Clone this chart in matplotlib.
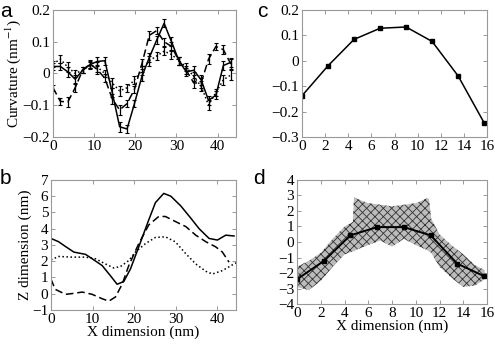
import matplotlib
matplotlib.use("Agg")
import matplotlib.pyplot as plt

plt.rcParams['font.family'] = ['Liberation Serif', 'DejaVu Serif']
plt.rcParams['mathtext.fontset'] = 'stix'
plt.rcParams['hatch.linewidth'] = 0.6

# panel a: curvature along the membrane
a_x = [0, 1.8, 3.6, 5.4, 7.2, 9.0, 10.8, 12.6, 14.4, 16.2, 18.0, 19.8, 21.6,
       23.4, 25.2, 27.0, 28.8, 30.6, 32.4, 34.2, 36.0, 37.8, 39.6, 41.4, 43.2]
a_solid = [0.022, 0.022, 0.005, -0.018, 0.01, 0.028, 0.038, 0.04, -0.06, -0.168,
           -0.175, -0.095, -0.01, 0.05, 0.105, 0.158, 0.1, 0.04, 0.005, 0.01,
           -0.02, -0.085, -0.068, 0.025, 0.035]
a_dashed = [-0.045, -0.088, -0.09, -0.045, 0.01, 0.03, 0.012, -0.015, -0.08, -0.115,
            -0.095, -0.05, 0.03, 0.12, 0.135, 0.1, 0.085, 0.04, 0.01, -0.03,
            -0.03, 0.045, 0.085, 0.075, 0.03]
a_dotted = [0.03, 0.045, 0.02, 0.0, 0.01, 0.025, 0.02, 0.0, -0.03, -0.055,
            -0.045, -0.02, 0.01, 0.04, 0.055, 0.07, 0.06, 0.04, 0.02, -0.01,
            -0.04, -0.1, -0.06, -0.02, -0.005]
a_err = [0.01, 0.012, 0.015, 0.012, 0.01, 0.012, 0.015, 0.012, 0.015, 0.015,
         0.012, 0.012, 0.015, 0.015, 0.012, 0.012, 0.015, 0.012, 0.012, 0.015,
         0.015, 0.015, 0.012, 0.015, 0.015]

# panel b: membrane profiles
b_solid_x = [0, 1.8, 3.5, 5.5, 8.3, 9.9, 12.3, 14.3, 15.9, 17.5, 19.1, 21.1, 23.5,
             25.1, 27.1, 28.8, 31.2, 33.6, 35.6, 38.0, 40.0, 42.0, 44.0]
b_solid_y = [3.4, 3.2, 2.9, 2.56, 2.42, 2.15, 1.73, 1.1, 0.58, 0.75, 1.52, 2.88, 4.54,
             5.6, 6.17, 6.0, 5.4, 4.65, 4.0, 3.4, 3.3, 3.6, 3.55]
b_dashed_x = [0, 1.0, 3.5, 5.5, 7.5, 9.9, 12.3, 13.9, 15.5, 17.1, 18.7, 21.1, 23.5,
              25.9, 27.5, 29.9, 32.4, 34.8, 37.2, 39.6, 41.2, 42.8]
b_dashed_y = [0.9, 0.27, -0.04, 0.02, 0.1, -0.04, -0.31, -0.46, -0.2, 0.58, 1.73, 3.08,
              4.23, 4.75, 4.75, 4.44, 4.13, 3.6, 3.2, 2.88, 2.56, 1.94]
b_dotted_x = [0, 1.8, 5.0, 8.3, 10.7, 13.1, 15.1, 16.7, 18.7, 20.3, 22.7, 25.1, 27.5,
              29.9, 32.4, 34.8, 37.2, 38.8, 41.2, 44.0, 44.5]
b_dotted_y = [2.08, 2.29, 2.25, 2.25, 2.15, 1.83, 1.58, 1.67, 2.04, 2.56, 3.08, 3.46,
              3.5, 3.19, 2.46, 1.83, 1.38, 1.21, 1.42, 1.83, 1.9]

# panel c: curvature of the BAR domain
c_x = [0, 2.25, 4.5, 6.75, 9.0, 11.25, 13.5, 15.75]
c_y = [-0.138, -0.02, 0.084, 0.128, 0.133, 0.076, -0.06, -0.245]

# panel d: fitted profile and the extent of the atom cloud
d_y = [-2.4, -1.23, 0.43, 0.96, 0.96, 0.43, -1.4, -2.2]
cloud_x = [0, 1, 2, 3, 4, 4.7, 4.8, 5, 6, 7, 8, 9, 10, 10.9, 11.1, 11.3, 12, 13, 14, 15, 15.8]
cloud_hi = [-1.6, -1.2, -0.7, 0.2, 1.0, 1.3, 2.9, 2.8, 2.5, 2.4, 2.3, 2.4, 2.5, 2.8, 2.8,
            1.5, 0.5, -0.2, -0.8, -1.5, -1.8]
cloud_lo = [-2.9, -3.1, -2.5, -1.6, -0.8, -0.6, -0.6, -0.5, -0.2, 0.1, -0.3, 0.2, -0.2,
            -0.5, -0.6, -0.7, -1.6, -2.3, -2.9, -2.8, -2.4]

fig = plt.figure(figsize=(4.95, 3.44), dpi=100)
ax_a = fig.add_axes([0.107, 0.602, 0.370, 0.369])
ax_c = fig.add_axes([0.610, 0.602, 0.374, 0.369])
ax_b = fig.add_axes([0.103, 0.099, 0.374, 0.378])
ax_d = fig.add_axes([0.600, 0.116, 0.384, 0.361])

for ax in (ax_a, ax_b, ax_c, ax_d):
    ax.tick_params(direction='in', top=True, right=True, labelsize=11, length=3,
                   width=0.6, color='#888888', pad=2)
    for s in ax.spines.values():
        s.set_color('#999999')
        s.set_linewidth(0.8)

# a
for ys, ls in ((a_solid, '-'), (a_dashed, (0, (5, 2.5))), (a_dotted, ':')):
    ax_a.errorbar(a_x, ys, yerr=a_err, color='black', ls=ls, lw=1.1,
                  elinewidth=0.9, capsize=1.2, capthick=0.8)
ax_a.set_xlim(0, 44.5)
ax_a.set_ylim(-0.2, 0.2)
ax_a.set_xticks([0, 10, 20, 30, 40])
ax_a.set_yticks([-0.2, -0.1, 0, 0.1, 0.2])
ax_a.set_yticklabels(['\u22120.2', '\u22120.1', '0', '0.1', '0.2'])
ax_a.set_ylabel('Curvature (nm$^{-1}$)', fontsize=11, labelpad=0)

# b
ax_b.plot(b_solid_x, b_solid_y, color='black', lw=1.1)
ax_b.plot(b_dashed_x, b_dashed_y, color='black', lw=1.1, ls=(0, (5, 2.5)))
ax_b.plot(b_dotted_x, b_dotted_y, color='black', lw=1.1, ls=':')
ax_b.set_xlim(0, 44.5)
ax_b.set_ylim(-1, 7)
ax_b.set_xticks([0, 10, 20, 30, 40])
ax_b.set_yticks(range(-1, 8))
ax_b.set_yticklabels(['\u22121'] + [str(v) for v in range(0, 8)])
ax_b.set_ylabel('Z dimension (nm)', fontsize=11, labelpad=0)
ax_b.set_xlabel('X dimension (nm)', fontsize=11, labelpad=0)

# c
ax_c.plot(c_x, c_y, color='black', lw=1.1, marker='s', ms=3)
ax_c.set_xlim(0, 16)
ax_c.set_ylim(-0.3, 0.2)
ax_c.set_xticks(range(0, 17, 2))
ax_c.set_yticks([-0.3, -0.2, -0.1, 0, 0.1, 0.2])
ax_c.set_yticklabels(['\u22120.3', '\u22120.2', '\u22120.1', '0', '0.1', '0.2'])

# d
ax_d.fill_between(cloud_x, cloud_lo, cloud_hi, facecolor='#bcbcbc', edgecolor='#333333',
                  hatch='xxxx', lw=0.0)
ax_d.plot(c_x, d_y, color='black', lw=1.4, marker='s', ms=3)
ax_d.set_xlim(0, 16)
ax_d.set_ylim(-4, 4)
ax_d.set_xticks(range(0, 17, 2))
ax_d.set_yticks(range(-4, 5))
ax_d.set_yticklabels(['\u22124', '\u22123', '\u22122', '\u22121', '0', '1', '2', '3', '4'])
ax_d.set_xlabel('X dimension (nm)', fontsize=11, labelpad=0)

for lab, x, y in (('a', 0.0, 0.995), ('c', 0.52, 0.995), ('b', 0.0, 0.51), ('d', 0.512, 0.51)):
    fig.text(x, y, lab, fontsize=15, family=['Liberation Sans', 'DejaVu Sans'],
             va='top', ha='left')

fig.savefig('out.png', dpi=100)
